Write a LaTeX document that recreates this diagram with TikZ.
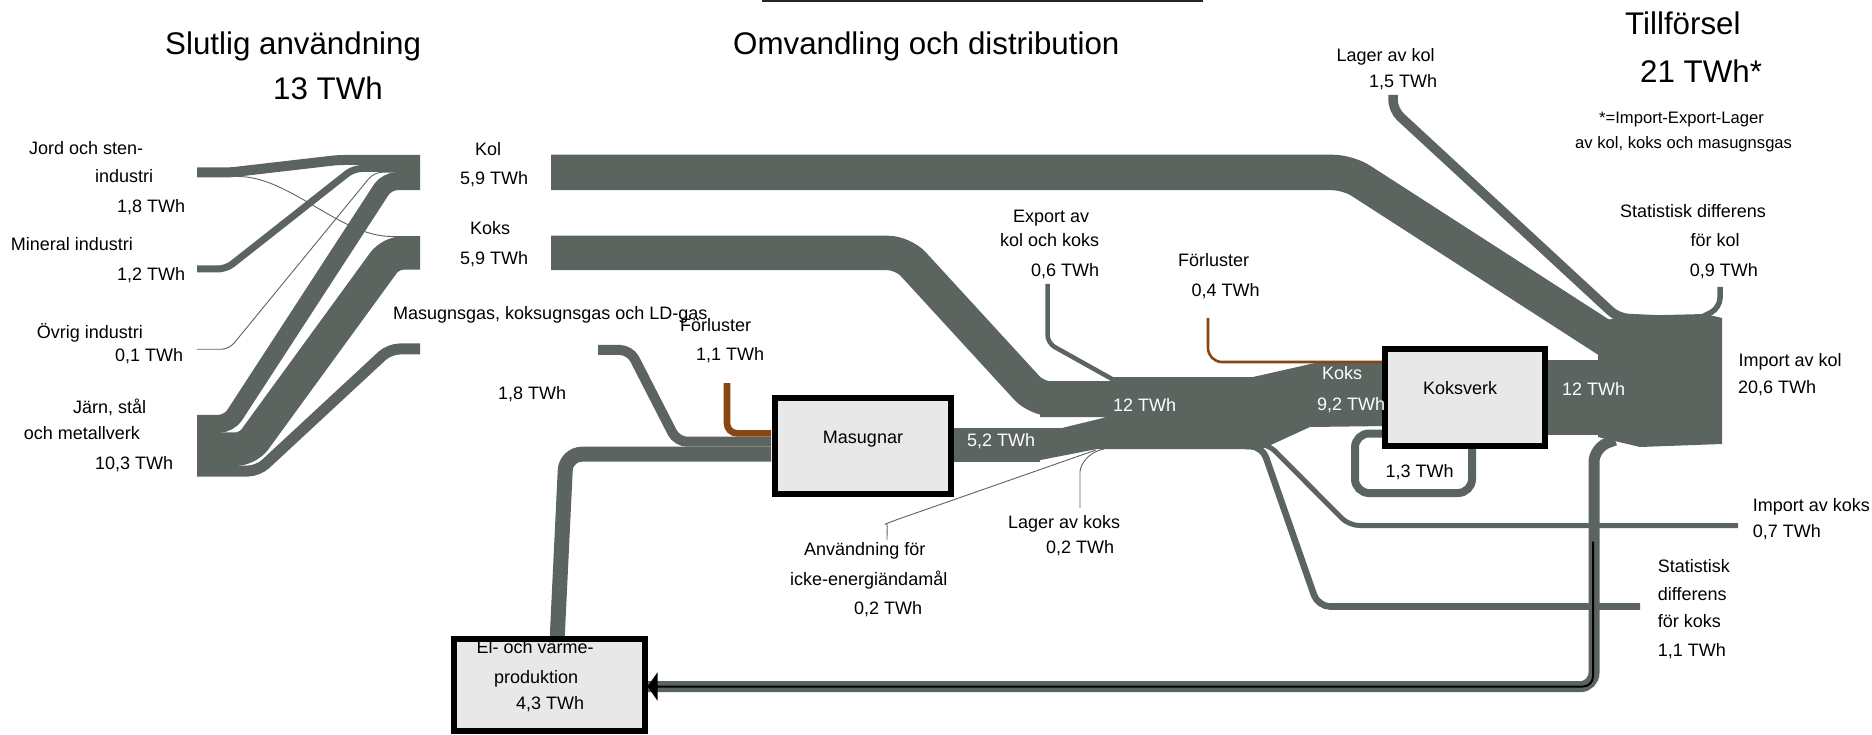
\documentclass[tikz,border=0pt]{standalone}
\usepackage{fontspec}
\setmainfont{Liberation Sans}
\usetikzlibrary{arrows.meta}
\definecolor{flowc}{RGB}{91,100,95}
\definecolor{lossc}{RGB}{139,69,19}
\definecolor{boxfill}{RGB}{232,232,232}

\begin{document}
\begin{tikzpicture}[x=1pt,y=-1pt,
  ribbon/.style={draw=flowc, line width=#1, rounded corners=12pt},
  thinline/.style={draw=flowc, line width=0.9pt, rounded corners=8pt},
  lossline/.style={draw=lossc, line width=#1, rounded corners=10pt},
  lbl/.style={anchor=base west, inner sep=0pt, font=\fontsize{18}{18}\selectfont},
  wlbl/.style={lbl, text=white},
  notelbl/.style={anchor=base west, inner sep=0pt, font=\fontsize{16.6}{16.6}\selectfont},
  ttl/.style={anchor=base west, inner sep=0pt, font=\fontsize{31.3}{31.3}\selectfont},
  procbox/.style={draw=black, line width=6pt, fill=boxfill, inner sep=0pt},
]
\useasboundingbox (0,0) rectangle (1872,735);

% rule above the middle heading
\draw[line width=2pt, black!85] (762,1) -- (1203,1);

% ---- final use: flows into the sector bars ----
\draw[ribbon=10pt, rounded corners=6pt] (197,172.5) -- (230,172.5) -- (338,160) -- (420,160);
\draw[thinline] (197,176.5) -- (230,176.5) .. controls (290,176.5) and (340,236.5) .. (400,236.5) -- (420,236.5);
\draw[ribbon=7pt, rounded corners=8pt] (197,269) -- (226,269) -- (353.6,168.5) -- (420,168.5);
\draw[thinline] (197,349.3) -- (229,349.3) -- (374,172.3) -- (420,172.3);
\draw[ribbon=18pt, rounded corners=10pt] (197,423.8) -- (229,423.8) -- (386.8,181.2) -- (420,181.2);
\draw[ribbon=33.5pt, rounded corners=12pt] (197,449.2) -- (247.7,449.2) -- (390.7,253) -- (420,253);
\draw[ribbon=11pt, rounded corners=10pt] (197,471) -- (258,471) -- (389.5,349) -- (420,349);

% ---- coal and coke main ribbons ----
\draw[ribbon=35.5pt, rounded corners=15pt] (551,172.5) -- (1348,172.5) -- (1625,351);
\draw[ribbon=34.5pt, rounded corners=15pt] (551,253) -- (903,253) -- (1037,399) -- (1080,399);

% ---- gases around the blast furnace ----
\draw[ribbon=10pt, rounded corners=10pt] (598,350) -- (630,350) -- (677,441.7) -- (771,441.7);
\draw[ribbon=15pt, rounded corners=16pt] (771,454.2) -- (566,454.2) -- (557,642);
\draw[lossline=6.6pt] (727,383) -- (727,433.3) -- (771,433.3);

% ---- coke junction (12 TWh) ----
\fill[flowc] (945,428) rectangle (1040,461.5);
\fill[flowc] (1040,381) -- (1110,381) -- (1112,377) -- (1253,377) -- (1315,363) -- (1388,363)
  -- (1388,426) -- (1310,427) -- (1262,449) -- (1097,449) -- (1033,461.5) -- (1030,461.5)
  -- (1030,428) -- (1062,428) -- (1107,417) -- (1040,417) -- cycle;
\draw[ribbon=4.5pt, rounded corners=8pt] (1047.5,284) -- (1047.5,343) -- (1112,379);
\draw[thinline] (1104,449) .. controls (1088,452) and (1080,465) .. (1080,480) -- (1080,508);
\draw[thinline] (1096,450) -- (893,521) .. controls (888,523) and (887,528) .. (887,540);
\draw[ribbon=5pt, rounded corners=10pt] (1250,444) -- (1268,444) -- (1349,525.5) -- (1738,525.5);
\draw[ribbon=6.6pt, rounded corners=12pt] (1245,446) -- (1262,446) -- (1318,606.5) -- (1640,606.5);
\draw[ribbon=8pt, rounded corners=14pt] (1388,433.5) -- (1355,433.5) -- (1355,493) -- (1472,493) -- (1472,444);
\draw[lossline=2.6pt, rounded corners=14pt] (1208,318) -- (1208,362) -- (1388,362);

% ---- supply side ----
\fill[flowc] (1544,360) rectangle (1602,435);
\fill[flowc] (1598,322) -- (1625,316) -- (1705,314) -- (1722,318) -- (1722,444) -- (1640,447) -- (1598,437) -- cycle;
\draw[ribbon=9.5pt, rounded corners=10pt] (1393,95) -- (1393,110) -- (1618,318) -- (1660,320);
\draw[ribbon=5.5pt, rounded corners=10pt] (1720,287) -- (1720,308) -- (1700,318);
\draw[ribbon=11pt, rounded corners=14pt] (640,686.7) -- (1594,686.7) -- (1594,448) -- (1615,440);

% ---- process boxes ----
\node[procbox, minimum width=176.5pt, minimum height=96pt] (masugnar) at (862.75,446) {};
\node[procbox, line width=5.5pt, minimum width=160pt, minimum height=96.6pt] (koksverk) at (1465,397.5) {};
\node[procbox, minimum width=191pt, minimum height=92pt] (elvarme) at (549,685) {};

% gas from the coke ovens to power and heat
\draw[line width=2pt, -{Triangle[length=10pt,width=28pt]}, rounded corners=10pt]
  (1593,541.7) -- (1593,686.5) -- (elvarme.east |- 0,686.5);

% ---- headings ----
\node[ttl] (h-slut) at (165,55) {Slutlig användning};
\node[ttl] (h-slut-v) at (273,100) {13 TWh};
\node[ttl] (h-omv) at (733,55) {Omvandling och distribution};
\node[ttl] (h-till) at (1625,35) {Tillförsel};
\node[ttl] (h-till-v) at (1640,83) {21 TWh*};
\node[notelbl] (note1) at (1599,124) {*=Import-Export-Lager};
\node[notelbl] (note2) at (1575,148.6) {av kol, koks och masugnsgas};

% ---- sector labels ----
\node[lbl] (jord1) at (29,155) {Jord och sten-};
\node[lbl] (jord2) at (95,182.5) {industri};
\node[lbl] (jord3) at (117,212.5) {1,8 TWh};
\node[lbl] (min1) at (10.7,250.5) {Mineral industri};
\node[lbl] (min2) at (117,280.5) {1,2 TWh};
\node[lbl] (ovr1) at (36.6,338) {Övrig industri};
\node[lbl] (ovr2) at (115,361.5) {0,1 TWh};
\node[lbl] (jarn1) at (72.8,413.5) {Järn, stål};
\node[lbl] (jarn2) at (23.7,439.5) {och metallverk};
\node[lbl] (jarn3) at (95,469.5) {10,3 TWh};

\node[lbl] (kol1) at (475,155.5) {Kol};
\node[lbl] (kol2) at (460,184.5) {5,9 TWh};
\node[lbl] (koks1) at (470,234.5) {Koks};
\node[lbl] (koks2) at (460,264.5) {5,9 TWh};
\node[lbl] (gas1) at (393,319.5) {Masugnsgas, koksugnsgas och LD-gas};
\node[lbl] (gas2) at (498,399.5) {1,8 TWh};

% ---- conversion labels ----
\node[lbl] (forl1) at (680,331.5) {Förluster};
\node[lbl] (forl1v) at (696,361) {1,1 TWh};
\node[anchor=base, inner sep=0pt, font=\fontsize{18}{18}\selectfont] (masugnar-t) at (863,443.5) {Masugnar};
\node[wlbl] (m52) at (967,446.5) {5,2 TWh};
\node[lbl] (exp1) at (1013,223) {Export av};
\node[lbl] (exp2) at (1000,246.5) {kol och koks};
\node[lbl] (exp3) at (1031,276.5) {0,6 TWh};
\node[lbl] (forl2) at (1178,266.5) {Förluster};
\node[lbl] (forl2v) at (1191.5,296.5) {0,4 TWh};
\node[wlbl] (j12) at (1113,411.5) {12 TWh};
\node[wlbl] (kk1) at (1322,379) {Koks};
\node[wlbl] (kk2) at (1317,410) {9,2 TWh};
\node[anchor=base, inner sep=0pt, font=\fontsize{18}{18}\selectfont] (koksverk-t) at (1460,394.5) {Koksverk};
\node[lbl] (loop13) at (1385.5,477) {1,3 TWh};
\node[wlbl] (r12) at (1562,395.5) {12 TWh};
\node[lbl] (lagk1) at (1008,528) {Lager av koks};
\node[lbl] (lagk2) at (1046,553) {0,2 TWh};
\node[lbl] (anv1) at (804,555.5) {Användning för};
\node[lbl] (anv2) at (790,585) {icke-energiändamål};
\node[lbl] (anv3) at (854,614) {0,2 TWh};
\node[lbl] (el1) at (476.5,653) {El- och värme-};
\node[lbl] (el2) at (494,683) {produktion};
\node[lbl] (el3) at (516,709) {4,3 TWh};

% ---- supply labels ----
\node[lbl] (lag1) at (1336.5,61.5) {Lager av kol};
\node[lbl] (lag2) at (1369,88) {1,5 TWh};
\node[lbl] (sdk1) at (1620,218) {Statistisk differens};
\node[lbl] (sdk2) at (1690.5,246.5) {för kol};
\node[lbl] (sdk3) at (1689.7,276.5) {0,9 TWh};
\node[lbl] (imp1) at (1738.3,366.5) {Import av kol};
\node[lbl] (imp2) at (1738,393) {20,6 TWh};
\node[lbl] (impk1) at (1752.7,511.5) {Import av koks};
\node[lbl] (impk2) at (1752.7,537) {0,7 TWh};
\node[lbl] (sdx1) at (1657.6,572) {Statistisk};
\node[lbl] (sdx2) at (1657.6,600) {differens};
\node[lbl] (sdx3) at (1657.6,627) {för koks};
\node[lbl] (sdx4) at (1657.6,656.5) {1,1 TWh};
\end{tikzpicture}
\end{document}
